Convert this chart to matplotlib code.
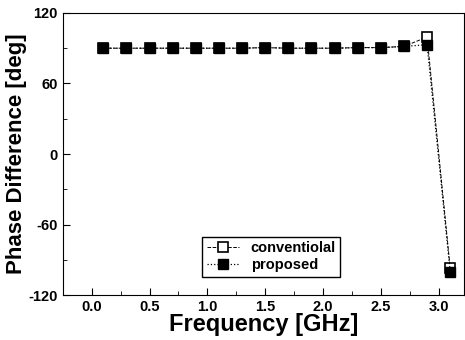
import matplotlib
matplotlib.use("Agg")
import matplotlib.pyplot as plt
from matplotlib.ticker import MultipleLocator

plt.rcParams["font.family"] = ["Liberation Sans", "DejaVu Sans"]
plt.rcParams["font.weight"] = "bold"
plt.rcParams["axes.unicode_minus"] = False

freq = [0.1, 0.3, 0.5, 0.7, 0.9, 1.1, 1.3, 1.5, 1.7, 1.9, 2.1, 2.3, 2.5, 2.7, 2.9, 3.1]
conventional = [90, 90, 90, 90, 90, 90, 90, 90.5, 90, 90, 90, 90.5, 90.5, 91.5, 99.5, -97]
proposed = [90, 90, 90, 90, 90, 90, 90, 90.5, 90, 90, 90, 90.5, 90.5, 91.5, 93, -100]

fig = plt.figure(figsize=(4.65, 3.4), dpi=100)
ax = fig.add_axes([0.135, 0.132, 0.863, 0.83])

ax.plot(freq, conventional, color="black", linestyle="--", linewidth=0.7,
        marker="s", markersize=7, markerfacecolor="white", markeredgecolor="black",
        markeredgewidth=1.2, label="conventiolal")
ax.plot(freq, proposed, color="black", linestyle=":", linewidth=0.9,
        marker="s", markersize=7, markerfacecolor="black", markeredgecolor="black",
        label="proposed")

ax.set_xlim(-0.25, 3.22)
ax.set_ylim(-120, 120)
ax.xaxis.set_major_locator(MultipleLocator(0.5))
ax.xaxis.set_minor_locator(MultipleLocator(0.25))
ax.yaxis.set_major_locator(MultipleLocator(60))
ax.yaxis.set_minor_locator(MultipleLocator(30))
ax.tick_params(which="both", direction="in", top=False, right=False, labelsize=10.5)
ax.tick_params(which="major", length=5)
ax.tick_params(which="minor", length=3)
ax.set_xticklabels([f"{v:.1f}" for v in ax.get_xticks()])

ax.set_xlabel("Frequency [GHz]", fontsize=17, fontweight="bold", labelpad=-1)
ax.set_ylabel("Phase Difference [deg]", fontsize=16, fontweight="bold", labelpad=1)

ax.legend(loc="lower left", bbox_to_anchor=(0.33, 0.04), fancybox=False,
          edgecolor="black", framealpha=1, fontsize=10.5, handlelength=2.2,
          borderpad=0.3, labelspacing=0.2)

fig.savefig("out.png", dpi=100)
